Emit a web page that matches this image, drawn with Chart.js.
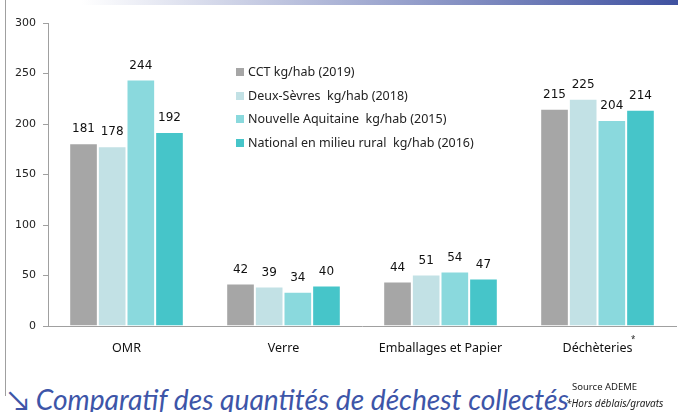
<!DOCTYPE html>
<html>
<head>
<meta charset="utf-8">
<script src="https://cdn.jsdelivr.net/npm/chart.js@4.4.1/dist/chart.umd.min.js"></script>
<style>
  body { margin: 0; width: 678px; height: 412px; overflow: hidden; background: #fff; position: relative; font-family: "Noto Sans", sans-serif; }
  #topbar { position: absolute; left: 0; top: 0; width: 678px; height: 5px; background: linear-gradient(to right, #fff 12%, #3f51a0 100%); }
  #leftline { position: absolute; left: 5px; top: 0; width: 1px; height: 396px; background: #a0a0a0; }
  #wrap { position: absolute; left: 0; top: 0; width: 678px; height: 363px; }
  #legend { position: absolute; left: 236px; top: 62px; font-size: 12.5px; color: #222; }
  #legend div { height: 23.7px; line-height: 20px; white-space: pre; }
  #legend span { display: inline-block; width: 8px; height: 8px; margin-right: 4px; vertical-align: 0px; }
  #title { position: absolute; left: 8px; top: 382px; font-family: Lato, sans-serif; font-style: italic; font-size: 28.2px; color: #3d55a8; white-space: nowrap; }
  #src { position: absolute; left: 572px; top: 380px; font-size: 9.5px; color: #222; }
  #note { position: absolute; left: 566px; top: 396px; font-size: 10px; font-style: italic; color: #222; background: transparent; }
  #star { position: absolute; left: 631px; top: 333px; font-size: 8px; color: #222; }
</style>
</head>
<body>
<div id="topbar"></div>
<div id="leftline"></div>
<div id="wrap"><canvas id="c"></canvas></div>
<div id="legend"></div>
<div id="star">*</div>
<div id="title">↘ Comparatif des quantités de déchest collectés</div>
<div id="src">Source ADEME</div>
<div id="note">*Hors déblais/gravats</div>
<script>
// --- data ---
var categories = ['OMR', 'Verre', 'Emballages et Papier', 'Déchèteries'];
var seriesNames = ['CCT kg/hab (2019)', 'Deux-Sèvres  kg/hab (2018)', 'Nouvelle Aquitaine  kg/hab (2015)', 'National en milieu rural  kg/hab (2016)'];
var cct = [181, 42, 44, 215];
var deuxSevres = [178, 39, 51, 225];
var nouvelleAquitaine = [244, 34, 54, 204];
var national = [192, 40, 47, 214];
var yTicks = [0, 50, 100, 150, 200, 250, 300];
var colors = ['#a6a6a6', '#c2e1e5', '#8ad9dd', '#46c5c9'];

var allSeries = [cct, deuxSevres, nouvelleAquitaine, national];

// legend
var leg = document.getElementById('legend');
seriesNames.forEach(function (n, i) {
    var d = document.createElement('div');
    d.innerHTML = '<span style="background:' + colors[i] + '"></span>';
    d.appendChild(document.createTextNode(n));
    leg.appendChild(d);
});

// --- value labels above bars ---
var valueLabels = {
    id: 'valueLabels',
    afterDatasetsDraw: function (chart) {
        var ctx = chart.ctx;
        ctx.save();
        ctx.font = '12px "DejaVu Sans"';
        ctx.fillStyle = '#111';
        ctx.textAlign = 'center';
        ctx.textBaseline = 'middle';
        chart.data.datasets.forEach(function (ds, i) {
            chart.getDatasetMeta(i).data.forEach(function (bar, j) {
                ctx.fillText(ds.data[j], bar.x, bar.y - 14);
            });
        });
        ctx.restore();
    }
};

new Chart(document.getElementById('c').getContext('2d'), {
    type: 'bar',
    data: {
        labels: categories,
        datasets: allSeries.map(function (s, i) {
            return {
                label: seriesNames[i],
                data: s,
                backgroundColor: colors[i],
                borderColor: '#ffffff',
                borderWidth: 1,
                categoryPercentage: 0.73,
                barPercentage: 1
            };
        })
    },
    options: {
        responsive: true,
        maintainAspectRatio: false,
        animation: false,
        layout: { padding: { top: 23, right: 2, left: 0, bottom: 0 } },
        plugins: { legend: { display: false }, tooltip: { enabled: false } },
        scales: {
            x: {
                grid: { display: false },
                border: { color: '#a0a0a0' },
                ticks: { color: '#111', font: { family: 'Noto Sans', size: 12.5 }, padding: 7 }
            },
            y: {
                min: 0, max: 300,
                afterBuildTicks: function (s) { s.ticks = yTicks.map(function (v) { return { value: v }; }); },
                afterFit: function (s) { s.width = 48; },
                grid: { drawOnChartArea: false, tickLength: 5, color: '#a0a0a0' },
                border: { color: '#a0a0a0' },
                ticks: { color: '#222', font: { family: 'DejaVu Sans', size: 11 }, padding: 7 }
            }
        }
    },
    plugins: [valueLabels]
});
</script>
</body>
</html>
